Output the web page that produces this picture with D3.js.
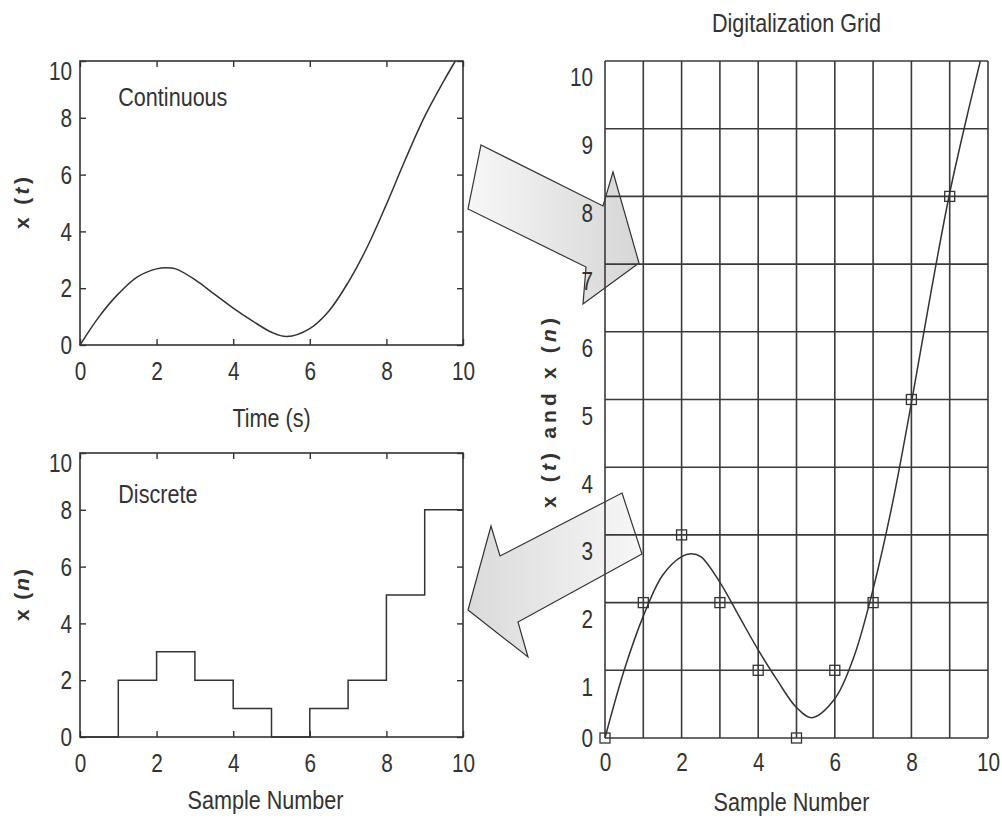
<!DOCTYPE html>
<html>
<head>
<meta charset="utf-8">
<script src="https://cdn.jsdelivr.net/npm/d3@7"></script>
<style>
  body { margin: 0; background: #fff; }
  svg { font-family: "Liberation Sans", Arial, sans-serif; }
  .axis path, .axis line { stroke: #333; stroke-width: 1.4; }
  .axis text { fill: #333; font-size: 25px; font-family: inherit; }
  .box { fill: none; stroke: #333; stroke-width: 1.6; }
  .label { fill: #333; font-size: 26px; }
  .ylabel { fill: #333; font-size: 21px; font-weight: bold; }
  .signal { fill: none; stroke: #333; stroke-width: 1.5; }
  .grid line { stroke: #3a3a3a; stroke-width: 1.6; }
  .arrow { stroke: #333; stroke-width: 1.2; }
</style>
</head>
<body>
<div id="chart"></div>
<script>
(function () {
  // continuous signal x(t)
  const timeValues = [0, 0.5, 1, 1.5, 2, 2.25, 2.5, 3, 3.5, 4, 4.5, 5, 5.4, 6, 6.5, 7, 7.5, 8, 8.5, 9, 9.5, 9.8];
  const signalValues = [0, 1.0, 1.8, 2.4, 2.68, 2.72, 2.68, 2.3, 1.8, 1.3, 0.85, 0.45, 0.3, 0.58, 1.2, 2.2, 3.45, 4.95, 6.55, 8.05, 9.3, 10];

  // discrete samples x(n)
  const sampleNumbers = [0, 1, 2, 3, 4, 5, 6, 7, 8, 9];
  const sampleValues = [0, 2, 3, 2, 1, 0, 1, 2, 5, 8];

  const axisTicks = [0, 2, 4, 6, 8, 10];
  const gridTicks = [0, 1, 2, 3, 4, 5, 6, 7, 8, 9, 10];

  const continuous = timeValues.map((t, i) => ({ x: t, y: signalValues[i] }));
  const discrete = sampleNumbers.map((n, i) => ({ x: n, y: sampleValues[i] }));
  // the last level is held until n = 10
  const stairs = discrete.concat([{ x: 10, y: sampleValues[sampleValues.length - 1] }]);

  const W = 1002;
  const H = 818;
  const NARROW = 0.83; // squeeze text horizontally (no narrow font installed)

  const svg = d3
    .select("#chart")
    .append("svg")
    .attr("width", W)
    .attr("height", H);

  const defs = svg.append("defs");

  // arrow gradients (light tail, darker head)
  const gradRight = defs.append("linearGradient").attr("id", "grad-right")
    .attr("x1", 0).attr("y1", 0).attr("x2", 1).attr("y2", 0);
  gradRight.append("stop").attr("offset", "0%").attr("stop-color", "#f7f7f7");
  gradRight.append("stop").attr("offset", "100%").attr("stop-color", "#d6d6d6");

  const gradLeft = defs.append("linearGradient").attr("id", "grad-left")
    .attr("x1", 1).attr("y1", 0).attr("x2", 0).attr("y2", 0);
  gradLeft.append("stop").attr("offset", "0%").attr("stop-color", "#f7f7f7");
  gradLeft.append("stop").attr("offset", "100%").attr("stop-color", "#dadada");

  // block arrows between the panels (page layout, not data)
  const arrowShapes = [
    { fill: "url(#grad-right)", pts: [[481, 145], [603, 206], [613, 172], [639, 263], [583, 304], [586, 267], [468, 209]] },
    { fill: "url(#grad-left)", pts: [[622, 493], [642, 554], [518, 622], [528, 657], [468, 610], [491, 526], [500, 556]] },
  ];

  svg
    .selectAll("polygon.arrow")
    .data(arrowShapes)
    .join("polygon")
    .attr("class", "arrow")
    .attr("points", (d) => d.pts.map((p) => p.join(",")).join(" "))
    .attr("fill", (d) => d.fill);

  // panel frames
  const panels = {
    cont: { left: 80, right: 463, top: 61, bottom: 345 },
    disc: { left: 80, right: 463, top: 453, bottom: 737 },
    grid: { left: 605, right: 988, top: 61, bottom: 738 },
  };

  function makeScales(p) {
    return {
      x: d3.scaleLinear().domain([0, 10]).range([p.left, p.right]),
      y: d3.scaleLinear().domain([0, 10]).range([p.bottom, p.top]),
    };
  }

  // plain label, squeezed like a narrow font
  function label(x, y, text, anchor) {
    svg.append("g")
      .attr("transform", `translate(${x},${y}) scale(${NARROW},1)`)
      .append("text")
      .attr("class", "label")
      .attr("text-anchor", anchor || "start")
      .text(text);
  }

  // MATLAB-like boxed axes with inward ticks
  function boxedAxes(p, s) {
    const g = svg.append("g");
    const tick = -6;

    g.append("g")
      .attr("class", "axis")
      .attr("transform", `translate(0,${p.bottom})`)
      .call(d3.axisBottom(s.x).tickValues(axisTicks).tickSizeInner(tick).tickSizeOuter(0).tickPadding(17))
      .selectAll("text")
      .attr("transform", `scale(${NARROW},1)`);

    g.append("g")
      .attr("class", "axis")
      .attr("transform", `translate(${p.left},0)`)
      .call(d3.axisLeft(s.y).tickValues(axisTicks).tickSizeInner(tick).tickSizeOuter(0).tickPadding(8))
      .selectAll("text")
      .attr("x", -8 / NARROW)
      .attr("transform", `scale(${NARROW},1)`)
      .attr("dy", (d) => (d === 10 ? "0.75em" : "0.35em"));

    g.append("g")
      .attr("class", "axis")
      .attr("transform", `translate(0,${p.top})`)
      .call(d3.axisTop(s.x).tickValues(axisTicks).tickSizeInner(tick).tickSizeOuter(0).tickFormat(""));

    g.append("g")
      .attr("class", "axis")
      .attr("transform", `translate(${p.right},0)`)
      .call(d3.axisRight(s.y).tickValues(axisTicks).tickSizeInner(tick).tickSizeOuter(0).tickFormat(""));

    g.selectAll(".axis path").remove();

    g.append("rect")
      .attr("class", "box")
      .attr("x", p.left)
      .attr("y", p.top)
      .attr("width", p.right - p.left)
      .attr("height", p.bottom - p.top);
  }

  // rotated y label like "x (t)" with italic variable
  function yLabel(x, y, parts, len) {
    const t = svg
      .append("text")
      .attr("class", "ylabel")
      .attr("transform", `translate(${x},${y}) rotate(-90)`)
      .attr("text-anchor", "middle")
      .attr("dy", "0.35em")
      .attr("textLength", len)
      .attr("lengthAdjust", "spacing");
    parts.forEach((part) => {
      t.append("tspan")
        .style("font-style", part.italic ? "italic" : "normal")
        .text(part.text);
    });
  }

  // ---- A: continuous signal
  const pA = panels.cont;
  const sA = makeScales(pA);
  boxedAxes(pA, sA);

  svg.append("path")
    .datum(continuous)
    .attr("class", "signal")
    .attr("d", d3.line().x((d) => sA.x(d.x)).y((d) => sA.y(d.y)).curve(d3.curveCatmullRom.alpha(0.5)));

  label(sA.x(1), sA.y(8.4), "Continuous");
  label((pA.left + pA.right) / 2, 427, "Time (s)", "middle");
  yLabel(22, (pA.top + pA.bottom) / 2, [{ text: "x (" }, { text: "t", italic: true }, { text: ")" }], 52);

  // ---- B: discrete signal
  const pB = panels.disc;
  const sB = makeScales(pB);
  boxedAxes(pB, sB);

  svg.append("path")
    .datum(stairs)
    .attr("class", "signal")
    .attr("d", d3.line().x((d) => sB.x(d.x)).y((d) => sB.y(d.y)).curve(d3.curveStepAfter));

  label(sB.x(1), sB.y(8.25), "Discrete");
  label((pB.left + pB.right) / 2 - 6, 809, "Sample Number", "middle");
  yLabel(22, (pB.top + pB.bottom) / 2, [{ text: "x (" }, { text: "n", italic: true }, { text: ")" }], 52);

  // ---- C: digitalization grid
  const pC = panels.grid;
  const sC = makeScales(pC);

  const grid = svg.append("g").attr("class", "grid");
  grid.selectAll("line.v")
    .data(gridTicks)
    .join("line")
    .attr("class", "v")
    .attr("x1", (d) => sC.x(d))
    .attr("x2", (d) => sC.x(d))
    .attr("y1", pC.top)
    .attr("y2", pC.bottom);
  grid.selectAll("line.h")
    .data(gridTicks)
    .join("line")
    .attr("class", "h")
    .attr("x1", pC.left)
    .attr("x2", pC.right)
    .attr("y1", (d) => sC.y(d))
    .attr("y2", (d) => sC.y(d));

  svg.append("g")
    .attr("class", "axis")
    .attr("transform", `translate(0,${pC.bottom})`)
    .call(d3.axisBottom(sC.x).tickValues(axisTicks).tickSize(0).tickPadding(15))
    .call((g) => g.select(".domain").remove())
    .selectAll("text")
    .attr("transform", `scale(${NARROW},1)`);

  svg.append("g")
    .attr("class", "axis")
    .attr("transform", `translate(${pC.left},0)`)
    .call(d3.axisLeft(sC.y).tickValues(gridTicks).tickSize(0).tickPadding(12))
    .call((g) => g.select(".domain").remove())
    .selectAll("text")
    .attr("x", -12 / NARROW)
    .attr("transform", `scale(${NARROW},1)`)
    .attr("dy", (d) => (d === 0 ? "0.35em" : "1.0em"));

  svg.append("path")
    .datum(continuous)
    .attr("class", "signal")
    .attr("d", d3.line().x((d) => sC.x(d.x)).y((d) => sC.y(d.y)).curve(d3.curveCatmullRom.alpha(0.5)));

  svg.selectAll("rect.sample")
    .data(discrete)
    .join("rect")
    .attr("class", "sample")
    .attr("x", (d) => sC.x(d.x) - 5)
    .attr("y", (d) => sC.y(d.y) - 5)
    .attr("width", 10)
    .attr("height", 10)
    .attr("fill", "none")
    .attr("stroke", "#333")
    .attr("stroke-width", 1.3);

  label((pC.left + pC.right) / 2, 32, "Digitalization Grid", "middle");
  label((pC.left + pC.right) / 2 - 5, 811, "Sample Number", "middle");

  yLabel(549, 413, [
    { text: "x (" }, { text: "t", italic: true }, { text: ") and x (" },
    { text: "n", italic: true }, { text: ")" },
  ], 190);
})();
</script>
</body>
</html>
